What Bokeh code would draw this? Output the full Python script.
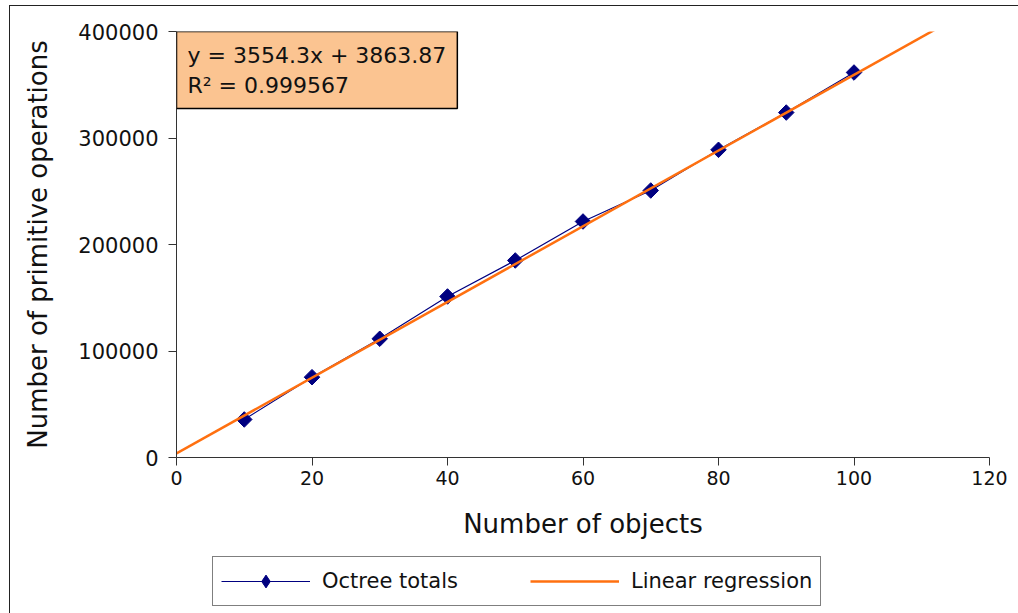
from bokeh.plotting import figure
from bokeh.layouts import column
from bokeh.models import Legend, LegendItem, Label, Range1d, FixedTicker
from bokeh.embed import file_html
from bokeh.resources import INLINE
import numpy as np

# ---- data ----
x_objects = [10, 20, 30, 40, 50, 60, 70, 80, 90, 100]
octree_totals = [35700, 75400, 111500, 151200, 185000, 221600, 250700, 288900, 323900, 361500]
slope = 3554.3
intercept = 3863.87
r_squared = 0.999567
reg_x = [0, 120]
reg_y = [slope * v + intercept for v in reg_x]
x_ticks = [0, 20, 40, 60, 80, 100, 120]
y_ticks = [0, 100000, 200000, 300000, 400000]

FONT = "DejaVu Sans"
NAVY = "#000080"
ORANGE = "#FF7010"

p = figure(width=1008, height=540, output_backend="svg", toolbar_location=None,
           x_range=Range1d(0, 120), y_range=Range1d(0, 400000),
           min_border_left=166, min_border_right=29, min_border_top=25, min_border_bottom=89)
p.outline_line_color = None
p.xgrid.grid_line_color = None
p.ygrid.grid_line_color = None

for ax in (p.xaxis[0], p.yaxis[0]):
    ax.axis_line_color = "#333333"
    ax.major_tick_line_color = "#333333"
    ax.major_tick_in = 0
    ax.major_tick_out = 8
    ax.minor_tick_line_color = None
    ax.major_label_text_font = FONT
    ax.major_label_text_color = "#111111"
    ax.axis_label_text_font = FONT
    ax.axis_label_text_font_style = "normal"
    ax.axis_label_text_font_size = "26px"
    ax.axis_label_text_color = "#111111"

p.xaxis.major_label_text_font_size = "19px"
p.yaxis.major_label_text_font_size = "21px"
p.xaxis.ticker = FixedTicker(ticks=x_ticks)
p.yaxis.ticker = FixedTicker(ticks=y_ticks)
p.yaxis.formatter.use_scientific = False
p.xaxis.axis_label = "Number of objects"
p.yaxis.axis_label = "Number of primitive operations"
p.xaxis.major_label_standoff = 5
p.yaxis.major_label_standoff = 10
p.xaxis.axis_label_standoff = 21
p.yaxis.axis_label_standoff = 22

p.line(x_objects, octree_totals, line_color=NAVY, line_width=1.2)
p.scatter(x_objects, octree_totals, marker="square", angle=np.pi / 4, size=11,
          fill_color=NAVY, line_color=NAVY)
p.line(reg_x, reg_y, line_color=ORANGE, line_width=2.5)

eq = Label(x=0, y=400000, anchor="top_left",
           text=f"y = {slope}x + {intercept}\nR² = {r_squared}",
           text_font=FONT, text_font_size="22px", text_color="#111111",
           text_line_height=1.2, padding=11,
           background_fill_color="#FBC491", border_line_color="black", border_line_width=1.5)
p.add_layout(eq)

# legend strip below the chart (same series, drawn out of its visible range)
pl = figure(width=1008, height=67, output_backend="svg", toolbar_location=None,
            x_axis_type=None, y_axis_type=None, min_border=0,
            x_range=Range1d(-2, -1), y_range=Range1d(-2, -1))
pl.outline_line_color = None
l1 = pl.line(x_objects, octree_totals, line_color=NAVY, line_width=1.2)
s1 = pl.scatter(x_objects, octree_totals, marker="diamond", size=15,
                fill_color=NAVY, line_color=NAVY)
l2 = pl.line(reg_x, reg_y, line_color=ORANGE, line_width=2.5)
legend = Legend(items=[LegendItem(label="Octree totals", renderers=[l1, s1]),
                       LegendItem(label="Linear regression", renderers=[l2])],
                orientation="horizontal", location=(36, 7),
                label_text_font=FONT, label_text_font_size="21px", label_text_color="#111111",
                glyph_width=89, glyph_height=32, label_height=32, label_standoff=12,
                spacing=72, padding=8, margin=0,
                border_line_color="black", border_line_width=1,
                background_fill_color="white", background_fill_alpha=1)
pl.add_layout(legend, "center")

layout = column(p, pl, spacing=0,
                styles={"margin-left": "9px", "margin-top": "5px",
                        "border-left": "1px solid #222", "border-top": "1px solid #222"})

open("out.html", "w").write(file_html(layout, INLINE))
